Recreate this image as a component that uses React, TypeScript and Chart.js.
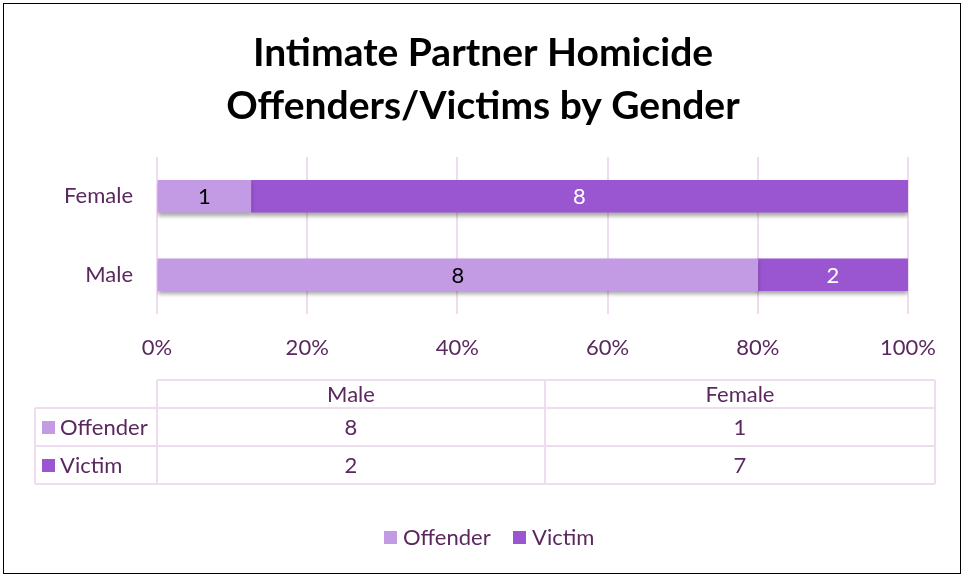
import React, { useEffect, useRef } from "react";
import { Chart, registerables } from "chart.js";

Chart.register(...registerables);

const categories = ["Female", "Male"];
const offenderCounts = [1, 8];
const victimCounts = [7, 2];
const offenderLabels = ["1", "8"];
const victimLabels = ["8", "2"];
const tableColumns = ["Male", "Female"];
const tableOffender = [8, 1];
const tableVictim = [2, 7];
const xTicks = [0, 20, 40, 60, 80, 100];
const titleLines = ["Intimate Partner Homicide", "Offenders/Victims by Gender"];

const OFF = "#C39BE4";
const VIC = "#9A56D1";
const TXT = "#5A285E";
const GRID = "#EFDDEF";
const FONT = "Lato, 'Open Sans', sans-serif";
const FS = 22;

export default function App() {
  const ref = useRef<HTMLCanvasElement>(null);
  useEffect(() => {
    document.body.style.margin = "0";
    const totals = categories.map((_, i) => offenderCounts[i] + victimCounts[i]);
    const offPct = offenderCounts.map((v, i) => (v / totals[i]) * 100);
    const vicPct = victimCounts.map((v, i) => (v / totals[i]) * 100);

    const extras = {
      id: "extras",
      beforeDatasetDraw(chart: any) {
        const c = chart.ctx;
        c.save();
        c.shadowColor = "rgba(0,0,0,0.35)";
        c.shadowBlur = 4;
        c.shadowOffsetY = 3;
      },
      afterDatasetDraw(chart: any) {
        chart.ctx.restore();
      },
      afterDraw(chart: any) {
        const c = chart.ctx;
        c.save();
        // border
        c.strokeStyle = "#000";
        c.lineWidth = 1;
        c.strokeRect(3.5, 3.5, 957, 570);
        // title
        c.fillStyle = "#000";
        c.font = `bold 39px ${FONT}`;
        c.textAlign = "center";
        c.textBaseline = "middle";
        c.fillText(titleLines[0], 483, 53);
        c.fillText(titleLines[1], 483, 106);
        // data labels
        c.font = `${FS}px ${FONT}`;
        const labelsets = [offenderLabels, victimLabels];
        const colors = ["#000", "#fff"];
        [0, 1].forEach((d) => {
          const meta = chart.getDatasetMeta(d);
          meta.data.forEach((bar: any, i: number) => {
            const p = bar.getProps(["x", "y", "base"], true);
            c.fillStyle = colors[d];
            c.fillText(labelsets[d][i], (p.x + p.base) / 2, p.y + 1);
          });
        });
        // table
        const xs = [35, 157, 545, 935];
        const ys = [380, 408, 446, 484];
        c.strokeStyle = GRID;
        c.lineWidth = 2;
        c.beginPath();
        c.moveTo(157, ys[0]); c.lineTo(935, ys[0]);
        for (let r = 1; r < 4; r++) { c.moveTo(35, ys[r]); c.lineTo(935, ys[r]); }
        c.moveTo(35, ys[1]); c.lineTo(35, ys[3]);
        for (let k = 1; k < 4; k++) { c.moveTo(xs[k], ys[0]); c.lineTo(xs[k], ys[3]); }
        c.stroke();
        c.fillStyle = TXT;
        c.font = `${FS}px ${FONT}`;
        c.textAlign = "center";
        tableColumns.forEach((col, k) => {
          const cx = (xs[k + 1] + xs[k + 2]) / 2;
          c.fillText(col, cx, (ys[0] + ys[1]) / 2 + 1);
          c.fillText(String(tableOffender[k]), cx, (ys[1] + ys[2]) / 2 + 1);
          c.fillText(String(tableVictim[k]), cx, (ys[2] + ys[3]) / 2 + 1);
        });
        const rowNames = ["Offender", "Victim"];
        const rowColors = [OFF, VIC];
        c.textAlign = "left";
        rowNames.forEach((n, r) => {
          const cy = (ys[r + 1] + ys[r + 2]) / 2;
          c.fillStyle = rowColors[r];
          c.fillRect(42, cy - 6, 13, 13);
          c.fillStyle = TXT;
          c.fillText(n, 60, cy + 1);
        });
        // legend
        const lx = [384, 513];
        rowNames.forEach((n, r) => {
          c.fillStyle = rowColors[r];
          c.fillRect(lx[r], 531, 13, 13);
          c.fillStyle = TXT;
          c.fillText(n, lx[r] + 19, 538);
        });
        c.restore();
      },
    };

    const chart = new Chart(ref.current!, {
      type: "bar",
      data: {
        labels: categories,
        datasets: [
          { label: "Offender", data: offPct, backgroundColor: OFF, barThickness: 32 },
          { label: "Victim", data: vicPct, backgroundColor: VIC, barThickness: 32 },
        ],
      },
      options: {
        indexAxis: "y",
        animation: false,
        responsive: false,
        layout: { padding: { top: 157, right: 56, bottom: 213, left: 0 } },
        plugins: { legend: { display: false }, title: { display: false }, tooltip: { enabled: false } },
        scales: {
          x: {
            stacked: true,
            min: 0,
            max: 100,
            afterBuildTicks: (s: any) => { s.ticks = xTicks.map((v) => ({ value: v })); },
            afterFit: (s: any) => { s.height = 50; },
            grid: { color: GRID, lineWidth: 2, drawTicks: false },
            border: { display: false },
            ticks: {
              padding: 21,
              color: TXT,
              font: { size: FS, family: FONT },
              callback: (v: any) => v + "%",
            },
          },
          y: {
            stacked: true,
            afterFit: (s: any) => { s.width = 157; },
            grid: { display: false, drawTicks: false },
            border: { display: false },
            ticks: { padding: 24, color: TXT, font: { size: FS, family: FONT } },
          },
        },
      },
      plugins: [extras],
    });
    return () => chart.destroy();
  }, []);
  return <canvas ref={ref} width={964} height={577} style={{ display: "block" }} />;
}
